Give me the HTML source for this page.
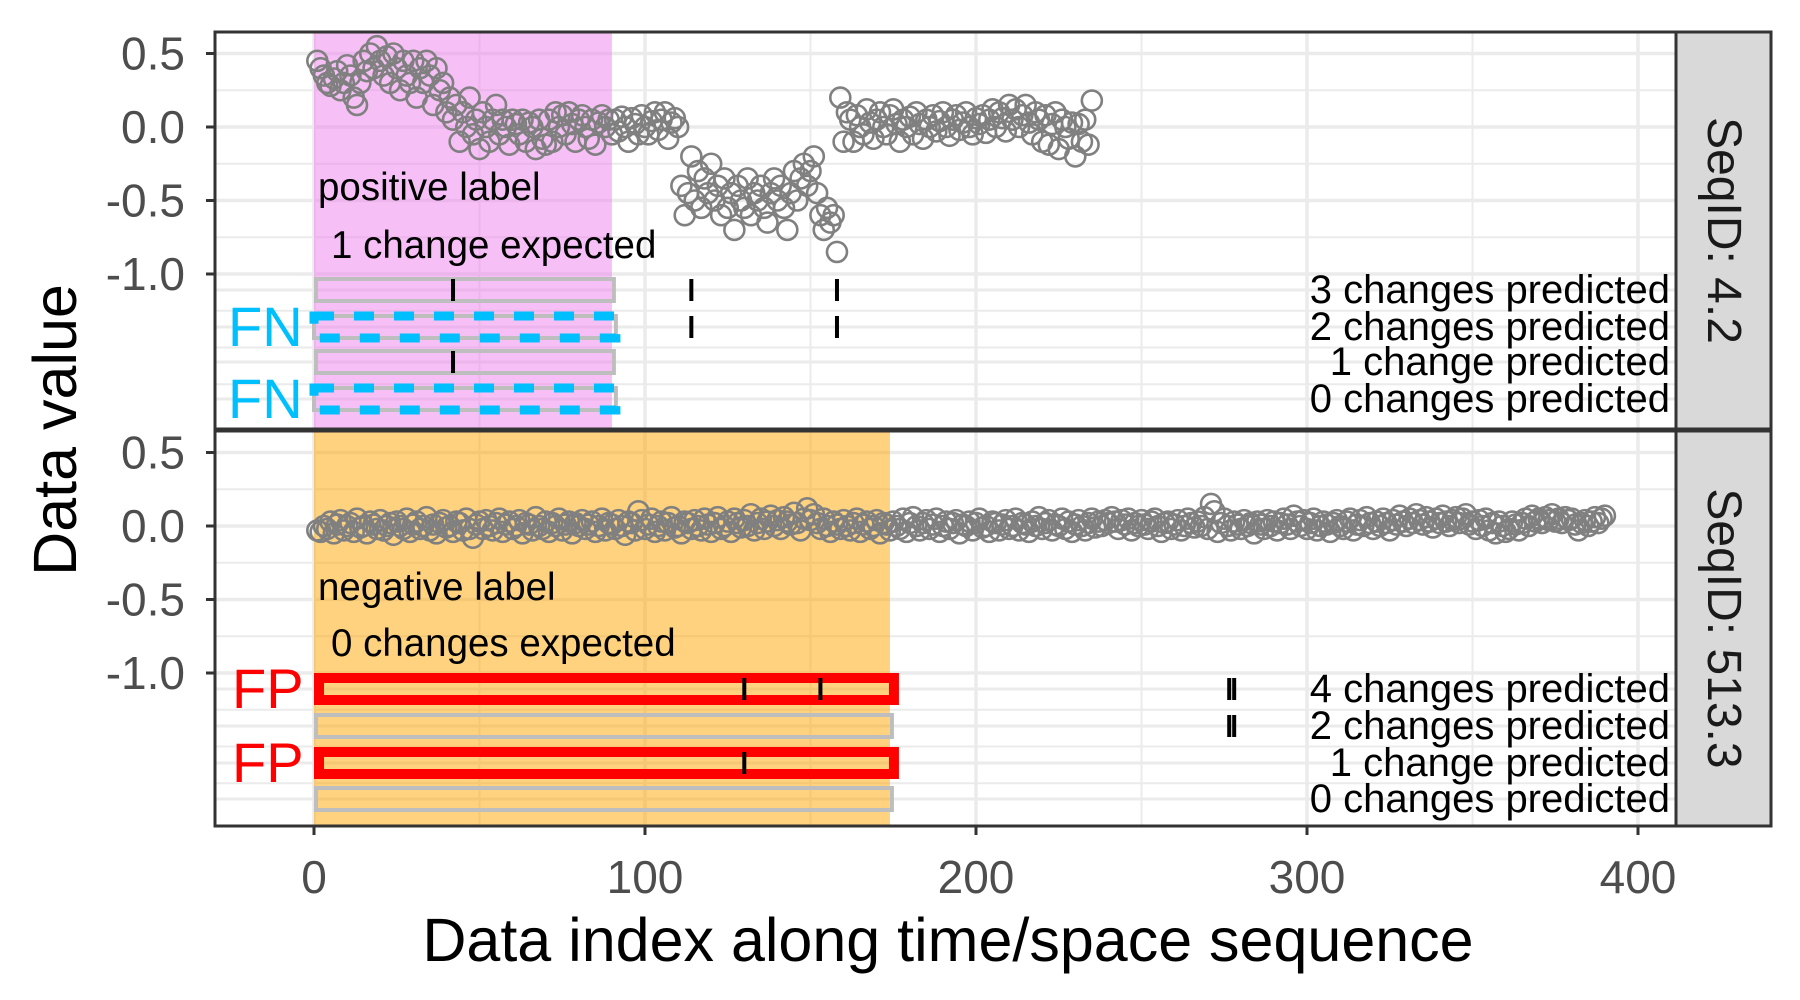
<!DOCTYPE html>
<html><head><meta charset="utf-8"><style>
html,body{margin:0;padding:0;background:#fff;}
svg{display:block;font-family:"Liberation Sans",sans-serif;}
</style></head><body>
<svg id="chart" width="1800" height="1000" viewBox="0 0 1800 1000" xmlns="http://www.w3.org/2000/svg"></svg>
<script>
const topValues=[0.45,0.40,0.35,0.30,0.28,0.33,0.38,0.25,0.30,0.42,
0.35,0.20,0.15,0.30,0.45,0.38,0.50,0.40,0.55,0.45,
0.35,0.48,0.30,0.50,0.40,0.25,0.45,0.35,0.30,0.45,
0.20,0.40,0.30,0.45,0.35,0.15,0.40,0.25,0.30,0.10,
0.20,0.05,0.15,-0.10,0.10,0.00,0.20,-0.05,0.05,-0.15,
0.10,0.00,-0.10,0.05,0.15,-0.05,0.05,0.00,-0.12,0.05,
0.02,-0.05,0.05,-0.10,0.03,0.00,-0.15,0.05,-0.08,-0.12,
0.05,-0.10,0.10,0.00,0.08,-0.05,0.10,0.02,-0.10,0.05,
0.08,0.00,-0.08,0.05,-0.12,0.03,0.08,0.00,0.05,-0.05,
0.05,-0.03,0.07,0.00,-0.10,0.06,0.02,-0.05,0.08,0.00,
-0.05,0.04,0.10,-0.02,0.05,0.10,-0.08,0.03,0.06,0.00,
-0.40,-0.60,-0.45,-0.20,-0.50,-0.30,-0.55,-0.35,-0.45,-0.25,
-0.50,-0.40,-0.60,-0.35,-0.55,-0.45,-0.70,-0.40,-0.50,-0.55,
-0.35,-0.60,-0.45,-0.50,-0.40,-0.55,-0.65,-0.45,-0.35,-0.50,
-0.40,-0.55,-0.70,-0.45,-0.30,-0.50,-0.35,-0.25,-0.40,-0.30,
-0.20,-0.45,-0.60,-0.70,-0.55,-0.65,-0.60,-0.85,0.20,-0.10,
0.10,0.05,-0.10,0.08,0.00,-0.05,0.12,0.03,-0.08,0.05,
0.10,0.00,-0.05,0.08,0.12,0.02,-0.10,0.05,0.00,0.07,
-0.05,0.10,0.02,-0.08,0.05,0.00,0.08,-0.03,0.04,0.10,
0.00,-0.06,0.05,0.08,-0.02,0.03,0.10,0.00,-0.05,0.06,
0.02,0.08,-0.04,0.05,0.12,0.00,0.10,0.06,-0.03,0.15,
0.05,0.12,0.00,0.08,0.15,0.03,-0.05,0.10,0.05,-0.10,
0.08,-0.12,0.02,0.10,-0.15,0.05,0.00,-0.08,0.03,-0.20,
0.02,-0.10,0.05,-0.12,0.18];
const bottomValues=[-0.03,-0.04,0.00,-0.02,0.03,-0.05,0.01,0.04,-0.03,0.00,
0.02,-0.04,0.05,-0.01,0.00,-0.05,0.03,0.01,-0.02,0.04,
-0.03,0.00,0.02,-0.06,0.03,0.00,-0.02,0.05,-0.04,0.01,
0.03,-0.02,0.00,0.06,-0.03,0.01,-0.05,0.02,0.04,-0.01,
0.00,-0.04,0.03,0.02,-0.03,0.05,-0.02,-0.08,0.01,0.03,
-0.02,0.04,0.00,-0.03,0.02,0.05,-0.04,0.01,0.03,-0.02,
0.00,0.04,-0.05,0.02,0.01,-0.03,0.06,0.00,-0.02,0.03,
-0.04,0.02,0.00,0.05,-0.03,0.01,0.03,-0.05,0.02,0.00,
0.04,-0.02,0.01,0.03,-0.04,0.00,0.05,-0.03,0.02,0.01,
-0.02,0.04,0.00,-0.06,0.03,0.02,-0.03,0.10,0.04,-0.02,
0.01,0.05,-0.04,0.00,0.03,-0.03,0.02,0.06,-0.01,0.00,
-0.05,0.03,0.02,-0.02,0.04,0.00,-0.03,0.05,0.01,-0.04,
0.02,0.06,-0.02,0.00,0.03,-0.04,0.05,0.02,-0.01,0.04,
0.00,0.08,-0.03,0.02,0.05,-0.02,0.03,0.07,0.00,0.04,
-0.02,0.06,0.03,0.01,0.09,0.02,-0.03,0.05,0.12,0.04,
0.08,0.02,-0.02,0.05,0.00,-0.04,0.03,0.01,-0.02,0.04,
0.00,-0.03,0.02,0.05,-0.04,0.01,0.03,-0.02,0.00,0.04,
-0.05,0.02,0.01,-0.03,0.03,0.00,-0.02,0.05,-0.04,0.02,
0.06,0.00,-0.03,0.02,0.04,-0.02,0.01,0.05,-0.04,0.00,
0.03,-0.02,0.02,0.04,-0.05,0.01,0.00,0.03,-0.03,0.02,
0.05,-0.01,0.00,-0.04,0.03,0.02,-0.03,0.01,0.04,-0.02,
0.00,0.05,-0.03,0.02,0.01,-0.04,0.03,0.00,0.06,-0.02,
0.02,0.04,-0.03,0.01,0.00,0.05,-0.02,0.03,-0.04,0.01,
0.04,0.00,-0.03,0.02,0.05,-0.01,0.03,0.00,0.04,0.02,
0.06,0.03,-0.02,0.04,0.01,0.05,-0.03,0.02,0.00,0.04,
0.01,-0.02,0.03,0.05,0.00,-0.04,0.02,0.03,-0.02,0.01,
0.04,-0.03,0.00,0.05,0.02,-0.01,0.03,0.00,0.06,-0.02,
0.15,0.10,-0.04,0.02,0.05,0.00,-0.03,0.03,0.01,-0.02,
0.04,0.00,0.02,-0.05,0.03,0.01,-0.02,0.04,0.00,0.03,
-0.03,0.02,0.05,0.01,-0.02,0.07,0.03,0.00,0.04,-0.02,
0.02,0.05,-0.03,0.00,0.03,0.01,-0.04,0.02,0.04,0.00,
-0.02,0.03,0.05,-0.03,0.01,0.04,0.00,0.06,0.02,-0.02,
0.03,0.00,0.05,0.02,-0.03,0.04,0.01,0.07,0.03,0.00,
0.05,0.02,0.08,0.04,0.01,0.06,0.03,-0.01,0.05,0.02,
0.07,0.03,0.00,0.04,0.06,0.02,0.05,0.08,0.01,0.03,
-0.02,0.04,0.00,0.05,-0.03,0.02,-0.05,0.03,0.00,-0.04,
-0.02,0.03,0.01,-0.03,0.02,0.05,0.00,0.07,0.03,0.05,
0.02,0.06,0.04,0.08,0.03,0.05,0.02,0.06,0.04,0.05,
0.01,-0.03,0.02,0.04,0.00,0.03,0.06,0.02,0.05,0.07];
const xTicks=[0,100,200,300,400];
const xMinor=[50,150,250,350];
const yTicks=[0.5,0.0,-0.5,-1.0];
const yTickLabels=["0.5","0.0","-0.5","-1.0"];
const topRegionEnd=90;
const bottomRegionEnd=174;
const topRowLabels=["3 changes predicted","2 changes predicted","1 change predicted","0 changes predicted"];
const topRowChanges=[[42,114,158],[114,158],[42],[]];
const topRowStatus=["ok","FN","ok","FN"];
const bottomRowLabels=["4 changes predicted","2 changes predicted","1 change predicted","0 changes predicted"];
const bottomRowChanges=[[130,153,276.5,278],[276.5,278],[130],[]];
const bottomRowStatus=["FP","ok","FP","ok"];

const NS="http://www.w3.org/2000/svg";
const svg=document.getElementById('chart');
function mk(tag,attrs,parent,text){const e=document.createElementNS(NS,tag);for(const k in attrs)e.setAttribute(k,attrs[k]);if(text!==undefined)e.textContent=text;(parent||svg).appendChild(e);return e;}
const PL=215,PR=1676,SR=1771;
const xs=v=>314+3.31*v;
const panels=[
 {top:32,bot:429,y0:127,per:147,vals:topValues,reg:topRegionEnd,regColor:"rgba(238,130,238,0.5)",rows:[290,327,362,399],labels:topRowLabels,changes:topRowChanges,status:topRowStatus,title:"SeqID: 4.2",t1:"positive label",t2:"1 change expected",t1y:200,t2y:258,key:"top"},
 {top:431,bot:826,y0:526,per:147,vals:bottomValues,reg:bottomRegionEnd,regColor:"rgba(255,165,0,0.5)",rows:[689,726,763,799],labels:bottomRowLabels,changes:bottomRowChanges,status:bottomRowStatus,title:"SeqID: 513.3",t1:"negative label",t2:"0 changes expected",t1y:600,t2y:656,key:"bottom"}
];
panels.forEach(p=>{
 const g=mk('g',{});
 
 
 const ys=v=>p.y0-p.per*v;
 mk('rect',{x:PL,y:p.top,width:PR-PL,height:p.bot-p.top,fill:'#fff'},g);
 xMinor.forEach(v=>mk('line',{x1:xs(v),x2:xs(v),y1:p.top,y2:p.bot,stroke:'#ebebeb','stroke-width':2},g));
 [0.25,-0.25,-0.75,-1.25,-1.5,-1.75].forEach(v=>{const y=ys(v);if(y>p.top&&y<p.bot)mk('line',{x1:PL,x2:PR,y1:y,y2:y,stroke:'#ebebeb','stroke-width':2},g);});
 p.rows.forEach(y=>mk('line',{x1:PL,x2:PR,y1:y,y2:y,stroke:'#ebebeb','stroke-width':3},g));
 xTicks.forEach(v=>mk('line',{x1:xs(v),x2:xs(v),y1:p.top,y2:p.bot,stroke:'#ebebeb','stroke-width':3.5},g));
 yTicks.forEach(v=>mk('line',{x1:PL,x2:PR,y1:ys(v),y2:ys(v),stroke:'#ebebeb','stroke-width':3.5},g));
 const reg=mk('rect',{x:xs(0),y:p.top,width:xs(p.reg)-xs(0),height:p.bot-p.top,fill:p.regColor},g);
 
 
 p.vals.forEach((v,i)=>{
  const c=mk('circle',{cx:xs(i+1),cy:ys(v),r:10,fill:'none',stroke:'#808080','stroke-width':2.6},g);
  
  
 });
 mk('text',{x:318,y:p.t1y,'font-size':38.5,fill:'#000'},g,p.t1);
 mk('text',{x:331,y:p.t2y,'font-size':38.5,fill:'#000'},g,p.t2);
 p.rows.forEach((y,r)=>{
  const st=p.status[r];
  const x1=xs(0),x2=xs(p.reg)+4;
  let box;
  if(st==='FN'){box=mk('rect',{x:x1,y:y-11,width:x2-x1,height:22,fill:'none',stroke:'#bebebe','stroke-width':4},g);
   mk('rect',{x:x1,y:y-11,width:x2-x1,height:22,fill:'none',stroke:'#00BFFF','stroke-width':9,'stroke-dasharray':'20 20'},g);
   const t=mk('text',{x:228,y:y+19,'font-size':56,fill:'#00BFFF'},g,'FN');
   
   
  } else if(st==='FP'){box=mk('rect',{x:x1+5,y:y-11,width:x2-x1-5,height:22,fill:'none',stroke:'#ff0000','stroke-width':10},g);
   const t=mk('text',{x:232,y:y+19,'font-size':56,fill:'#ff0000'},g,'FP');
   
   
  } else {box=mk('rect',{x:x1+2,y:y-11,width:x2-x1-4,height:22,fill:'none',stroke:'#bebebe','stroke-width':4},g);}
  
  
  p.changes[r].forEach(c=>{
   const l=mk('line',{x1:xs(c),x2:xs(c),y1:y-11,y2:y+11,stroke:'#000','stroke-width':4},g);
   
   
  });
  const t=mk('text',{x:PR-6,y:y+13,'font-size':40,'text-anchor':'end',fill:'#000'},g,p.labels[r]);
  
  
 });
 mk('rect',{x:PL,y:p.top,width:PR-PL,height:p.bot-p.top,fill:'none',stroke:'#333','stroke-width':3},g);
 const strip=mk('rect',{x:PR,y:p.top,width:SR-PR,height:p.bot-p.top,fill:'#d9d9d9',stroke:'#333','stroke-width':3},g);
 
 
 const cx=(PR+SR)/2,cy=(p.top+p.bot)/2;
 const st=mk('text',{x:cx,y:cy,'font-size':48,'text-anchor':'middle','dominant-baseline':'central',fill:'#1a1a1a',transform:`rotate(90 ${cx} ${cy})`},g,p.title);
 
 
 yTicks.forEach((v,i)=>{
  mk('line',{x1:PL-9,x2:PL,y1:ys(v),y2:ys(v),stroke:'#333','stroke-width':3},g);
  const t=mk('text',{x:PL-30,y:ys(v)+16,'font-size':46,'text-anchor':'end',fill:'#4d4d4d'},g,yTickLabels[i]);
  
  
 });
});
xTicks.forEach(v=>{
 mk('line',{x1:xs(v),x2:xs(v),y1:826,y2:835,stroke:'#333','stroke-width':3});
 const t=mk('text',{x:xs(v),y:893,'font-size':46,'text-anchor':'middle',fill:'#4d4d4d'},svg,String(v));
 
 
});
const xt=mk('text',{x:948,y:961,'font-size':61,'text-anchor':'middle',fill:'#000'},svg,'Data index along time/space sequence');


const yt=mk('text',{x:76,y:430,'font-size':61,'text-anchor':'middle',fill:'#000',transform:'rotate(-90 76 430)'},svg,'Data value');


</script>
</body></html>
